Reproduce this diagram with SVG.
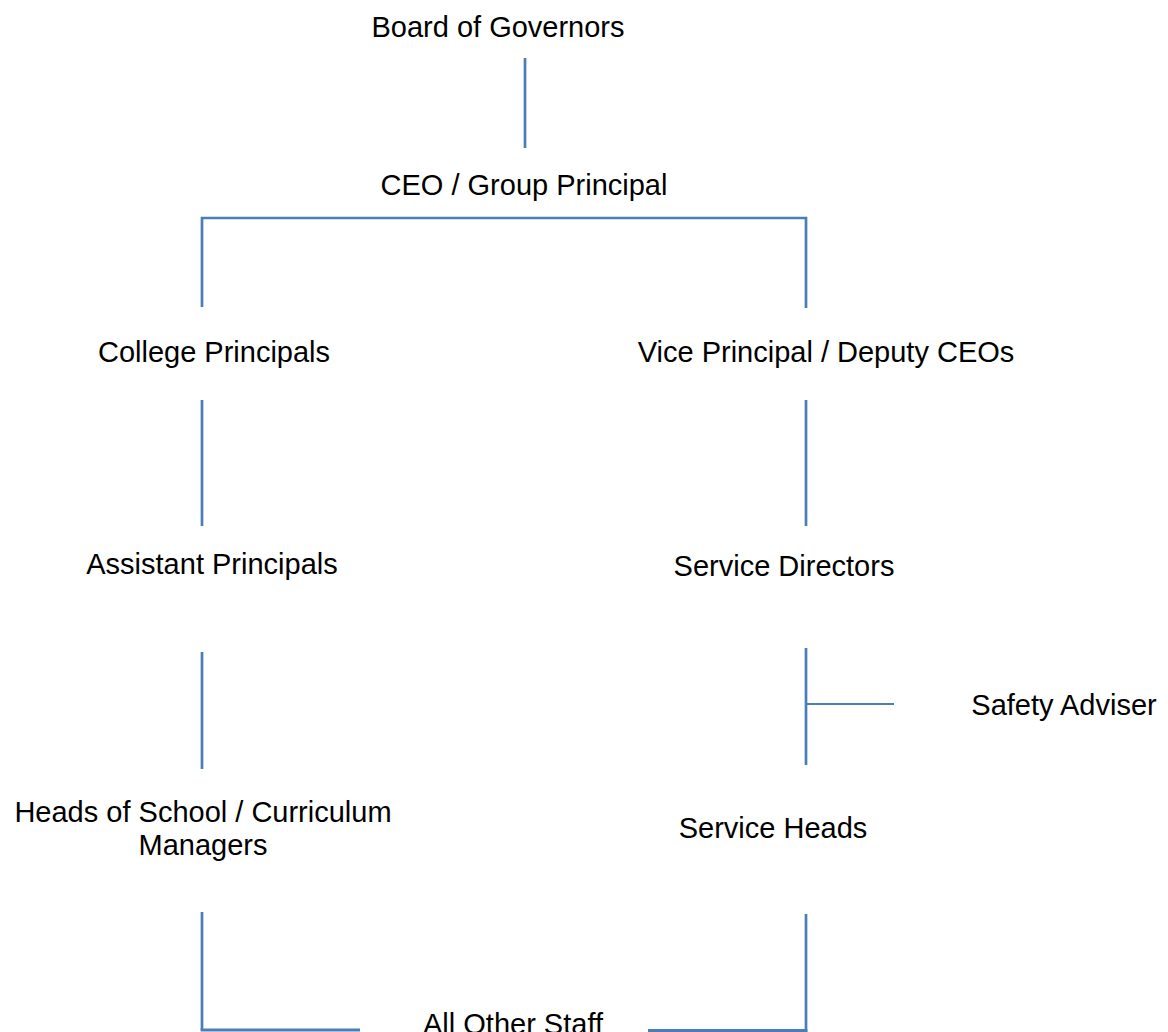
<svg xmlns="http://www.w3.org/2000/svg" width="1168" height="1032" viewBox="0 0 1168 1032">
<style>
text{font-family:"Liberation Sans",Arial,sans-serif;font-size:29px;fill:#000;text-anchor:middle}
.c line{stroke:#4a7ebb;stroke-width:2.7;fill:none}
</style>
<rect width="1168" height="1032" fill="#fff"/>
<g class="c" id="connectors">
<line x1="525" y1="58" x2="525" y2="148"/>
<line x1="201" y1="218" x2="807" y2="218"/>
<line x1="202" y1="217" x2="202" y2="307"/>
<line x1="806" y1="217" x2="806" y2="308"/>
<line x1="202" y1="400" x2="202" y2="526"/>
<line x1="806" y1="400" x2="806" y2="526"/>
<line x1="202" y1="652" x2="202" y2="769"/>
<line x1="806" y1="648" x2="806" y2="765"/>
<line x1="806" y1="704" x2="894" y2="704" style="stroke-width:2"/>
<line x1="202" y1="912" x2="202" y2="1030"/>
<line x1="200.6" y1="1030" x2="360" y2="1030" style="stroke-width:3"/>
<line x1="806" y1="914" x2="806" y2="1032"/>
<line x1="648" y1="1030.5" x2="807.4" y2="1030.5" style="stroke-width:3"/>
</g>
<g id="board"><text x="498" y="37">Board of Governors</text></g>
<g id="ceo"><text x="524" y="195">CEO / Group Principal</text></g>
<g id="college"><text x="214" y="362">College Principals</text></g>
<g id="vice"><text x="826" y="362">Vice Principal / Deputy CEOs</text></g>
<g id="assistant"><text x="212" y="574">Assistant Principals</text></g>
<g id="directors"><text x="784" y="576">Service Directors</text></g>
<g id="safety"><text x="1064" y="715">Safety Adviser</text></g>
<g id="heads"><text x="203" y="822">Heads of School / Curriculum</text><text x="203" y="855">Managers</text></g>
<g id="serviceheads"><text x="773" y="838">Service Heads</text></g>
<g id="allstaff"><text x="513" y="1034">All Other Staff</text></g>
</svg>
